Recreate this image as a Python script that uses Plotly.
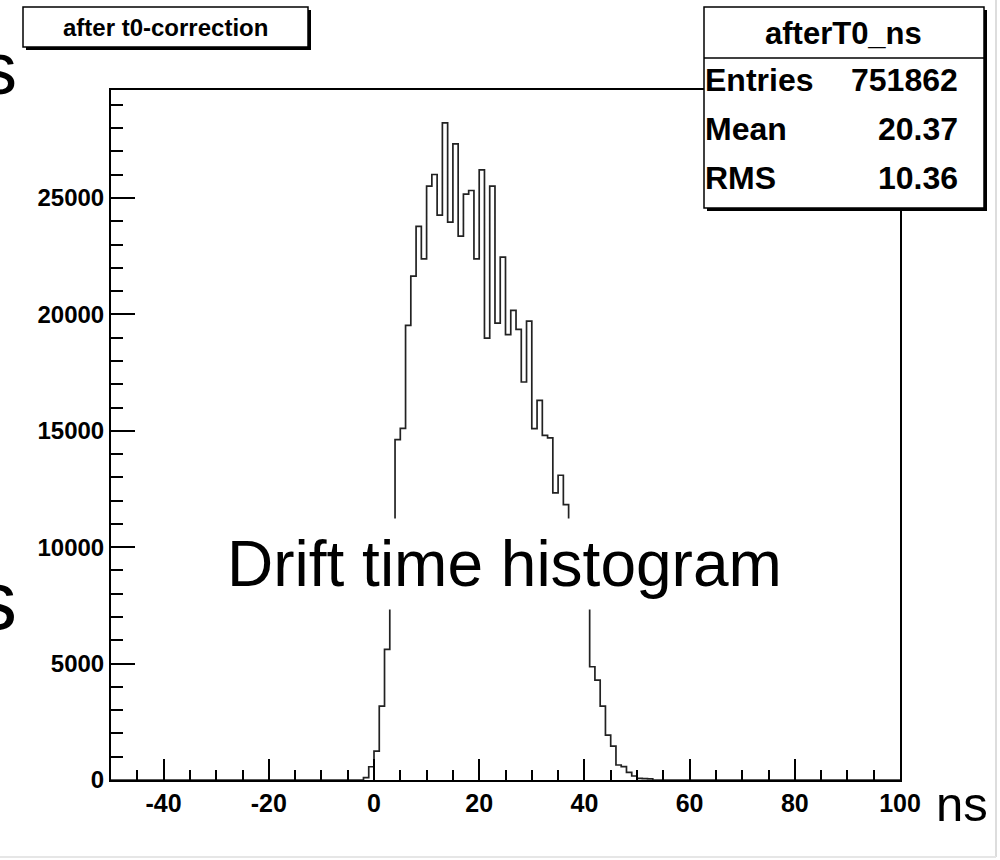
import plotly.graph_objects as go

# ---------------- data ----------------
x_min, x_max = -50, 100          # histogram range (ns), 1 ns bins
first_bin = -2                    # left edge of first non-empty bin
counts = [100, 570, 1244, 3176, 5607, 9500, 14623, 15108, 19529, 21646,
          23778, 22390, 25508, 26010, 24264, 28228, 23963, 27327, 23362, 25167,
          25323, 22390, 26210, 18985, 25508, 19628, 22461, 19129, 20172, 19357,
          17096, 19714, 15094, 16310, 14800, 14700, 12331, 13091, 11833, 10800,
          9800, 8800, 7800, 4864, 4292, 3176, 1931, 1459, 644, 572,
          329, 172, 72, 60, 45]
x_ticks = [-40, -20, 0, 20, 40, 60, 80, 100]
x_ticklabels = ["-40", "-20", "0", "20", "40", "60", "80", "100"]
y_ticks = [0, 5000, 10000, 15000, 20000, 25000]
y_ticklabels = ["0", "5000", "10000", "15000", "20000", "25000"]
hist_title = "after t0-correction"
stat_name = "afterT0_ns"
stat_labels = ["Entries", "Mean", "RMS"]
stat_values = ["751862", "20.37", "10.36"]
y_max = 29640

# full step arrays
edges = list(range(x_min, x_max + 1))
full = []
for e in edges[:-1]:
    i = e - first_bin
    full.append(counts[i] if 0 <= i < len(counts) else 0)
step_y = full + [full[-1]]

# ---------------- layout helpers ----------------
W, H = 1000, 860
L, R, T, B = 111, 900, 90, 780


def px(x):
    return (x - L) / (R - L)


def py(y):
    return (B - y) / (B - T)


fig = go.Figure()
fig.add_trace(go.Scatter(x=edges, y=step_y, mode="lines",
                         line=dict(shape="hv", color="#222222", width=1.7),
                         hoverinfo="skip", showlegend=False))

rootfont = "Liberation Sans, Arial, Helvetica, sans-serif"

fig.update_layout(
    width=W, height=H,
    margin=dict(l=L, r=W - R, t=T, b=H - B),
    paper_bgcolor="white", plot_bgcolor="white",
    showlegend=False,
    xaxis=dict(range=[x_min, x_max], tickvals=x_ticks, ticktext=x_ticklabels, ticks="inside",
               ticklen=21, tickwidth=1.5, tickcolor="black",
               minor=dict(dtick=5, ticks="inside", ticklen=10, tickwidth=1.5, tickcolor="black"),
               showline=True, linecolor="black", linewidth=2, mirror=True,
               showgrid=False, zeroline=False,
               tickfont=dict(family=rootfont, size=25, color="black", weight="bold")),
    yaxis=dict(range=[0, y_max], tickvals=y_ticks, ticktext=y_ticklabels, ticks="inside",
               ticklen=24, tickwidth=1.5, tickcolor="black",
               minor=dict(dtick=1000, ticks="inside", ticklen=12, tickwidth=1.5, tickcolor="black"),
               showline=True, linecolor="black", linewidth=2, mirror=True,
               showgrid=False, zeroline=False,
               tickfont=dict(family=rootfont, size=24, color="black", weight="bold")),
)

shapes = []
# faint slide border
shapes.append(dict(type="line", xref="paper", yref="paper", x0=px(996), x1=px(996),
                   y0=py(0), y1=py(857), line=dict(color="#dddddd", width=2), layer="above"))
shapes.append(dict(type="line", xref="paper", yref="paper", x0=px(0), x1=px(996),
                   y0=py(857), y1=py(857), line=dict(color="#e6e6e6", width=2), layer="above"))
# title box with shadow
shapes.append(dict(type="rect", xref="paper", yref="paper", x0=px(26), x1=px(311),
                   y0=py(10), y1=py(50), fillcolor="black", line=dict(width=0), layer="above"))
shapes.append(dict(type="rect", xref="paper", yref="paper", x0=px(23), x1=px(308),
                   y0=py(7), y1=py(47), fillcolor="white", line=dict(color="black", width=1.5),
                   layer="above"))
# stats box with shadow
shapes.append(dict(type="rect", xref="paper", yref="paper", x0=px(707), x1=px(987),
                   y0=py(10), y1=py(211), fillcolor="black", line=dict(width=0), layer="above"))
shapes.append(dict(type="rect", xref="paper", yref="paper", x0=px(704), x1=px(984),
                   y0=py(7), y1=py(208), fillcolor="white", line=dict(color="black", width=1.5),
                   layer="above"))
shapes.append(dict(type="line", xref="paper", yref="paper", x0=px(704), x1=px(984),
                   y0=py(58), y1=py(58), line=dict(color="black", width=1.5), layer="above"))
fig.update_layout(shapes=shapes)

ann = []
ann.append(dict(text=hist_title, xref="paper", yref="paper", x=px(165), y=py(27),
                xanchor="center", yanchor="middle", showarrow=False,
                font=dict(family=rootfont, size=24, color="black", weight="bold")))
ann.append(dict(text=stat_name, xref="paper", yref="paper", x=px(843), y=py(33),
                xanchor="center", yanchor="middle", showarrow=False,
                font=dict(family=rootfont, size=31, color="black", weight="bold")))
row_y = [80, 129, 178]
for lab, val, yy in zip(stat_labels, stat_values, row_y):
    ann.append(dict(text=lab, xref="paper", yref="paper", x=px(703), y=py(yy),
                    xanchor="left", yanchor="middle", showarrow=False,
                    font=dict(family=rootfont, size=32, color="black", weight="bold")))
    ann.append(dict(text=val, xref="paper", yref="paper", x=px(960), y=py(yy),
                    xanchor="right", yanchor="middle", showarrow=False,
                    font=dict(family=rootfont, size=32, color="black", weight="bold")))
# slide texts
slide = "Liberation Sans, Arial, sans-serif"
ann.append(dict(text="Drift time histogram", xref="paper", yref="paper", x=px(504), y=py(564),
                xanchor="center", yanchor="middle", showarrow=False, bgcolor="white",
                borderpad=9, font=dict(family=slide, size=64, color="black")))
ann.append(dict(text="ns", xref="paper", yref="paper", x=px(934), y=py(804),
                xanchor="left", yanchor="middle", showarrow=False,
                font=dict(family=slide, size=49, color="black")))
ann.append(dict(text="s", xref="paper", yref="paper", x=px(19), y=py(68),
                xanchor="right", yanchor="middle", showarrow=False,
                font=dict(family=slide, size=74, color="black")))
ann.append(dict(text="s", xref="paper", yref="paper", x=px(19), y=py(600),
                xanchor="right", yanchor="middle", showarrow=False,
                font=dict(family=slide, size=84, color="black")))
fig.update_layout(annotations=ann)

fig.write_html("out.html")
